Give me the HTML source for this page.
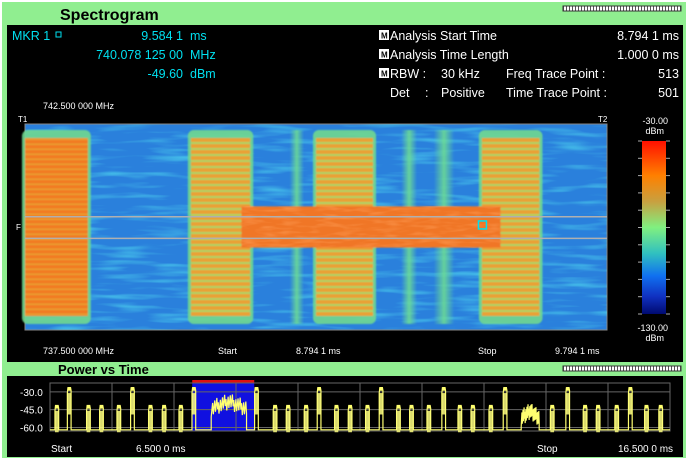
<!DOCTYPE html>
<html><head><meta charset="utf-8"><style>
body{margin:0;background:#fff;width:689px;height:462px;overflow:hidden;font-family:"Liberation Sans",sans-serif}
svg text{font-family:"Liberation Sans",sans-serif}
</style></head><body>
<svg id="s" width="689" height="462" viewBox="0 0 689 462">
<defs>
<filter id="noise" x="0" y="0" width="100%" height="100%">
<feTurbulence type="fractalNoise" baseFrequency="0.02 0.18" numOctaves="2" seed="3"/>
<feColorMatrix type="matrix" values="0 0 0 0 0.1  0 0 0 0 0.85  0 0 0 0 0.9  0 0 0 2.2 -1.05"/>
</filter>
<filter id="noise2" x="0" y="0" width="100%" height="100%">
<feTurbulence type="fractalNoise" baseFrequency="0.05 0.25" numOctaves="2" seed="7"/>
<feColorMatrix type="matrix" values="0 0 0 0 1  0 0 0 0 0.35  0 0 0 0 0.1  0 0 0 2.5 -1.1"/>
</filter>
<filter id="blur"><feGaussianBlur stdDeviation="0.9"/></filter>
<pattern id="stripes" width="8" height="5" patternUnits="userSpaceOnUse">
<rect width="8" height="5" fill="#f27a22"/><rect y="3.5" width="8" height="1.5" fill="#e8a030"/>
</pattern>
<pattern id="stripes2" width="8" height="6" patternUnits="userSpaceOnUse">
<rect width="8" height="6" fill="#eaa034"/><rect y="4" width="8" height="2" fill="#a8d468"/>
</pattern>
<linearGradient id="cbar" x1="0" y1="0" x2="0" y2="1">
<stop offset="0" stop-color="#ff1000"/><stop offset="0.2" stop-color="#ff8000"/><stop offset="0.35" stop-color="#c8a040"/>
<stop offset="0.5" stop-color="#80f080"/><stop offset="0.65" stop-color="#30c0c0"/><stop offset="0.78" stop-color="#1070f0"/>
<stop offset="0.9" stop-color="#1030c0"/><stop offset="1" stop-color="#000a70"/></linearGradient>
<linearGradient id="fadeL" x1="0" y1="0" x2="1" y2="0"><stop offset="0" stop-color="#70e090" stop-opacity="0"/><stop offset="0.5" stop-color="#70e090"/><stop offset="1" stop-color="#70e090" stop-opacity="0"/></linearGradient>
<pattern id="seg" width="3" height="5" patternUnits="userSpaceOnUse"><rect width="3" height="5" fill="#fff"/><rect x="2" width="1" height="5" fill="#555"/></pattern>
</defs>
<rect width="689" height="462" fill="#fff"/>
<rect x="2" y="2" width="684" height="456" fill="#90ee90"/>
<text x="60" y="20" font-size="16" font-weight="bold" fill="#000">Spectrogram</text>
<rect x="563" y="6" width="118" height="5" fill="url(#seg)" stroke="#333" stroke-width="1"/>
<rect x="7" y="25" width="676" height="337" fill="#000"/>
<g font-size="12.5" fill="#00e0f0">
<text x="12" y="40">MKR 1</text><rect x="56" y="32" width="5" height="5" fill="none" stroke="#00e0f0"/>
<text x="183" y="40" text-anchor="end">9.584 1</text><text x="190" y="40">ms</text>
<text x="183" y="59" text-anchor="end">740.078 125 00</text><text x="190" y="59">MHz</text>
<text x="183" y="78" text-anchor="end">-49.60</text><text x="190" y="78">dBm</text>
</g>
<g font-size="12.5" fill="#fff">
<rect x="379" y="30" width="10" height="10" fill="#fff"/><text x="381" y="38.5" font-size="8" fill="#000" font-weight="bold">M</text>
<text x="390" y="40">Analysis Start Time</text><text x="679" y="40" text-anchor="end">8.794 1 ms</text>
<rect x="379" y="49" width="10" height="10" fill="#fff"/><text x="381" y="57.5" font-size="8" fill="#000" font-weight="bold">M</text>
<text x="390" y="59">Analysis Time Length</text><text x="679" y="59" text-anchor="end">1.000 0 ms</text>
<rect x="379" y="68" width="10" height="10" fill="#fff"/><text x="381" y="76.5" font-size="8" fill="#000" font-weight="bold">M</text>
<text x="390" y="78">RBW :</text><text x="441" y="78">30 kHz</text><text x="506" y="78">Freq Trace Point :</text><text x="679" y="78" text-anchor="end">513</text>
<text x="390" y="97">Det</text><text x="425" y="97">:</text><text x="441" y="97">Positive</text><text x="506" y="97">Time Trace Point :</text><text x="679" y="97" text-anchor="end">501</text>
</g>
<text x="43" y="109" font-size="9" fill="#fff">742.500 000 MHz</text>
<text x="18" y="122" font-size="8" fill="#fff">T1</text><text x="598" y="122" font-size="8" fill="#fff">T2</text>
<text x="16" y="230" font-size="8" fill="#fff">F</text>
<g id="spec"></g>
<text x="43" y="354" font-size="9" fill="#fff">737.500 000 MHz</text>
<g font-size="9" fill="#fff">
<text x="218" y="354">Start</text><text x="296" y="354">8.794 1 ms</text><text x="478" y="354">Stop</text><text x="555" y="354">9.794 1 ms</text></g>
<rect x="642" y="141" width="24" height="173" fill="url(#cbar)"/>
<g id="cticks"></g>
<g font-size="9" fill="#fff" text-anchor="end">
<text x="668" y="124">-30.00</text><text x="664" y="134">dBm</text><text x="668" y="331">-130.00</text><text x="664" y="341">dBm</text></g>
<text x="58" y="374" font-size="13" font-weight="bold" fill="#000">Power vs Time</text>
<rect x="563" y="366" width="118" height="5" fill="url(#seg)" stroke="#333" stroke-width="1"/>
<rect x="7" y="376" width="676" height="81" fill="#000"/>
<g id="pvt"></g>
<g font-size="10" fill="#fff">
<text x="51" y="452">Start</text><text x="136" y="452">6.500 0 ms</text><text x="537" y="452">Stop</text><text x="618" y="452">16.500 0 ms</text></g>
</svg>
<script>
const NS='http://www.w3.org/2000/svg';
function mk(p,t,a){const e=document.createElementNS(NS,t);for(const k in a)e.setAttribute(k,a[k]);p.appendChild(e);return e;}
const burstStart=[0.0,0.285,0.50,0.785];
const burstEnd=[0.108,0.387,0.598,0.884];
const burstLevel=[-55,-60,-60,-60];
const toneCenter=[0.467,0.66,0.72];
const toneLevel=[-80,-78,-72];
const bandStart=[0.372];const bandEnd=[0.817];const bandLevel=[-55];
const markerX=0.786, markerY=0.49;
const SX0=25,SX1=607,SY0=124,SY1=330;
const sx=f=>SX0+f*(SX1-SX0), sy=f=>SY0+f*(SY1-SY0);
const spec=document.getElementById('spec');
let r=mk(spec,'rect',{x:SX0,y:SY0,width:SX1-SX0,height:SY1-SY0,fill:'#2a80dc',stroke:'#888'});


mk(spec,'rect',{x:SX0,y:SY0,width:SX1-SX0,height:SY1-SY0,filter:'url(#noise)',opacity:0.6});
const bl=mk(spec,'g',{filter:'url(#blur)'});
toneCenter.forEach((c,i)=>{const w=6+(toneLevel[i]+90)*0.8;
 const t=mk(bl,'rect',{x:sx(c)-w/2,y:SY0+6,width:w,height:SY1-SY0-12,fill:'url(#fadeL)',opacity:0.85});
 
 });
burstStart.forEach((s,i)=>{const x0=sx(s),x1=sx(burstEnd[i]);
 mk(bl,'rect',{x:x0-3,y:SY0+6,width:x1-x0+6,height:SY1-SY0-12,fill:'#70d890',rx:6,opacity:0.9});
 const b=mk(bl,'rect',{x:x0,y:SY0+14,width:x1-x0,height:SY1-SY0-28,fill:burstLevel[i]>-58?'url(#stripes)':'url(#stripes2)'});
 
 });
bandStart.forEach((s,i)=>{const b=mk(bl,'rect',{x:sx(s),y:sy(0.40),width:sx(bandEnd[i])-sx(s),height:sy(0.60)-sy(0.40),fill:'#f07628'});
 
 
 mk(spec,'rect',{x:sx(s),y:sy(0.40),width:sx(bandEnd[i])-sx(s),height:sy(0.60)-sy(0.40),opacity:0.5,filter:'url(#noise2)'});});
[0.45,0.555].forEach(f=>{const l=mk(spec,'line',{x1:SX0,x2:SX1,y1:sy(f),y2:sy(f),stroke:'#b0b0b0','stroke-width':1.5});
 
 });
let m=mk(spec,'rect',{x:sx(markerX)-4,y:sy(markerY)-4,width:8,height:8,fill:'none',stroke:'#00e0f0','stroke-width':1.5});


const ct=document.getElementById('cticks');
for(let i=0;i<=10;i++){const y=141+i*17.3;mk(ct,'line',{x1:638,x2:642,y1:y,y2:y,stroke:'#aaa'});mk(ct,'line',{x1:666,x2:670,y1:y,y2:y,stroke:'#aaa'});}
const pulseTime=[6.61,6.81,7.12,7.33,7.61,7.83,8.12,8.34,8.61,8.82,9.83,10.13,10.34,10.63,10.84,11.12,11.34,11.62,11.84,12.12,12.33,12.61,12.85,13.11,13.32,13.61,13.84,14.6,14.85,15.13,15.34,15.64,15.86,16.12,16.35];
const pulseLevel=[-45,-30,-45,-45,-45,-30,-45,-45,-45,-30,-30,-45,-45,-45,-30,-45,-45,-45,-30,-45,-45,-45,-30,-45,-45,-45,-30,-45,-30,-45,-45,-45,-30,-45,-45];
const wideStart=[9.1,14.1];const wideEnd=[9.67,14.39];const wideLevel=[-38,-46];
const yTicks=[-30,-45,-60];
const PX0=50,PX1=670,PY0=383,PY1=431;
const px=t=>PX0+(t-6.5)/10*(PX1-PX0), py=d=>PY0+(-22.5-d)*(PY1-PY0)/(40.5);
const pvt=document.getElementById('pvt');
const sel=mk(pvt,'rect',{x:px(8.7941),y:PY0,width:px(9.7941)-px(8.7941),height:PY1-PY0,fill:'#1010e0'});


const rb=mk(pvt,'rect',{x:px(8.7941),y:380,width:px(9.7941)-px(8.7941),height:3,fill:'#e01010'});


mk(pvt,'rect',{x:PX0,y:PY0,width:PX1-PX0,height:PY1-PY0,fill:'none',stroke:'#666'});
for(let i=1;i<10;i++)mk(pvt,'line',{x1:PX0+i*(PX1-PX0)/10,x2:PX0+i*(PX1-PX0)/10,y1:PY0,y2:PY1,stroke:'#666'});
yTicks.forEach(v=>{mk(pvt,'line',{x1:PX0,x2:PX1,y1:py(v),y2:py(v),stroke:'#666'});
 const t=mk(pvt,'text',{x:20,y:py(v)+4,'font-size':10,fill:'#fff'});t.textContent=v.toFixed(1);
 
 });
const base=-62;
const ev=[];pulseTime.forEach((t,i)=>ev.push({s:t-0.03,e:t+0.03,l:pulseLevel[i],w:false}));
wideStart.forEach((s,i)=>ev.push({s:s,e:wideEnd[i],l:wideLevel[i],w:true}));
ev.sort((a,b)=>a.s-b.s);
let d='M'+px(6.5)+','+py(base);
ev.forEach(e=>{d+=' L'+px(e.s)+','+py(base);
 const n=e.w?50:6;
 for(let k=0;k<=n;k++){const t=e.s+(e.e-e.s)*k/n;
  let v;
  if(e.w){v=e.l+((k*37)%11-5)*1.4-(Math.abs(k-n/2)/n)*12;}
  else{v=k==0?e.l-1:(k%2?e.l+4:e.l+1);}
  d+=' L'+px(t)+','+py(v);}
 d+=' L'+px(e.e)+','+py(base);});
d+=' L'+px(16.5)+','+py(base);
const tr=mk(pvt,'path',{d:d,fill:'none',stroke:'#ffff70','stroke-width':1.2});


ev.forEach(e=>{if(e.w)return;
 const b=mk(pvt,'rect',{x:px(e.s),y:py(e.l-1),width:px(e.e)-px(e.s),height:py(e.l-14)-py(e.l-1)+6,fill:'#ffff80',opacity:0.85});
 
 });
</script>
</body></html>
